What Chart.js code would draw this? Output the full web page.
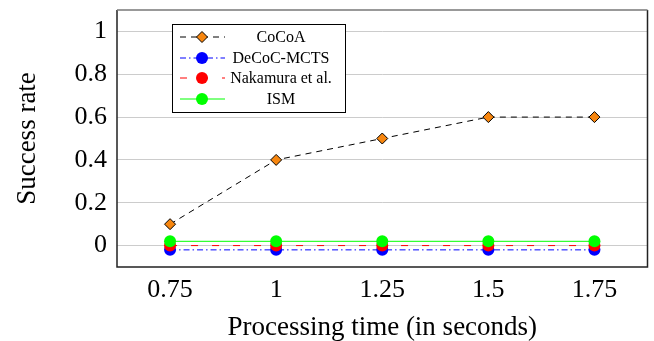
<!DOCTYPE html>
<html>
<head>
<meta charset="utf-8">
<script src="https://cdn.jsdelivr.net/npm/chart.js@4.4.1/dist/chart.umd.min.js"></script>
<style>
  html, body { margin: 0; padding: 0; background: #fff; }
  #wrap { width: 654px; height: 341px; }
</style>
</head>
<body>
<div id="wrap"><canvas id="c" width="654" height="341"></canvas></div>
<script>
// ---- data ----
const categories = [0.75, 1, 1.25, 1.5, 1.75];
const xTickLabels = ['0.75', '1', '1.25', '1.5', '1.75'];
const yTicks = [0, 0.2, 0.4, 0.6, 0.8, 1];
const yTickLabels = ['0', '0.2', '0.4', '0.6', '0.8', '1'];
const seriesNames = ['CoCoA', 'DeCoC-MCTS', 'Nakamura et al.', 'ISM'];
const cocoa = [0.1, 0.4, 0.5, 0.6, 0.6];
const decoc = [-0.02, -0.02, -0.02, -0.02, -0.02];
const nakamura = [0, 0, 0, 0, 0];
const ism = [0.02, 0.02, 0.02, 0.02, 0.02];

const SERIF = '"Liberation Serif", "Times New Roman", serif';

const styles = [
  { line: '#000000', dash: [6, 5], width: 1, point: 'rectRot', radius: 5.5, bg: '#f7860f', border: '#000000', bw: 1 },
  { line: '#0000ff', dash: [6, 3, 1.5, 3], width: 1, point: 'circle', radius: 6, bg: '#0000ff', border: '#0000ff', bw: 0 },
  { line: '#ff0000', dash: [7, 14], width: 1, point: 'circle', radius: 6, bg: '#ff0000', border: '#ff0000', bw: 0 },
  { line: '#00ff00', dash: [], width: 1, point: 'circle', radius: 6, bg: '#00ff00', border: '#00ff00', bw: 0 }
];
const seriesData = [cocoa, decoc, nakamura, ism];
const drawOrder = [3, 2, 1, 0];

const datasets = seriesNames.map((name, i) => ({
  label: name,
  data: categories.map((x, j) => ({ x: x, y: seriesData[i][j] })),
  borderColor: styles[i].line,
  borderWidth: styles[i].width,
  borderDash: styles[i].dash,
  pointStyle: styles[i].point,
  pointRadius: styles[i].radius,
  pointBackgroundColor: styles[i].bg,
  pointBorderColor: styles[i].border,
  pointBorderWidth: styles[i].bw,
  fill: false,
  tension: 0,
  order: drawOrder[i]
}));

const frameAndLegend = {
  id: 'frameAndLegend',
  afterDraw(chart) {
    const ctx = chart.ctx;
    const a = chart.chartArea;
    ctx.save();
    // frame
    ctx.setLineDash([]);
    ctx.lineWidth = 1.5;
    ctx.strokeStyle = '#222';
    ctx.beginPath();
    ctx.moveTo(a.left, a.top); ctx.lineTo(a.left, a.bottom); ctx.lineTo(a.right, a.bottom); ctx.lineTo(a.right, a.top);
    ctx.stroke();
    ctx.strokeStyle = '#777';
    ctx.beginPath();
    ctx.moveTo(a.left, a.top); ctx.lineTo(a.right, a.top);
    ctx.stroke();

    // legend box
    const lx = 172, ly = 24, lw = 173, lh = 88;
    ctx.fillStyle = '#fff';
    ctx.fillRect(lx, ly, lw, lh);
    ctx.lineWidth = 1;
    ctx.strokeStyle = '#000';
    ctx.strokeRect(lx + 0.5, ly + 0.5, lw, lh);
    const rowY = [37, 58, 78, 99];
    ctx.font = '16px ' + SERIF;
    ctx.textAlign = 'center';
    ctx.textBaseline = 'middle';
    seriesNames.forEach((name, i) => {
      const s = styles[i];
      const y = rowY[i];
      ctx.lineWidth = s.width;
      ctx.strokeStyle = s.line;
      ctx.setLineDash(s.dash);
      ctx.beginPath();
      ctx.moveTo(180, y); ctx.lineTo(225, y);
      ctx.stroke();
      ctx.setLineDash([]);
      ctx.fillStyle = s.bg;
      ctx.strokeStyle = s.border;
      ctx.lineWidth = s.bw;
      ctx.beginPath();
      if (s.point === 'rectRot') {
        const r = s.radius;
        ctx.moveTo(202, y - r); ctx.lineTo(202 + r, y); ctx.lineTo(202, y + r); ctx.lineTo(202 - r, y); ctx.closePath();
        ctx.fill(); ctx.stroke();
      } else {
        ctx.arc(202, y, s.radius, 0, Math.PI * 2);
        ctx.fill();
      }
      ctx.fillStyle = '#000';
      ctx.fillText(name, 281, y + 1);
    });
    ctx.restore();
  }
};

new Chart(document.getElementById('c'), {
  type: 'line',
  data: { datasets: datasets },
  options: {
    responsive: false,
    animation: false,
    devicePixelRatio: 1,
    layout: { padding: { left: 0, right: 4, top: 10, bottom: 0 } },
    plugins: { legend: { display: false }, tooltip: { enabled: false } },
    scales: {
      x: {
        type: 'linear',
        min: 0.625,
        max: 1.875,
        afterBuildTicks: (s) => { s.ticks = categories.map(v => ({ value: v })); },
        afterFit: (s) => { s.height = 74; s.paddingLeft = 0; s.paddingRight = 0; },
        ticks: {
          autoSkip: false, maxRotation: 0, padding: 8,
          color: '#000', font: { family: SERIF, size: 26 },
          callback: (v) => { const k = categories.indexOf(v); return k >= 0 ? xTickLabels[k] : ''; }
        },
        grid: { display: false, drawTicks: false },
        border: { display: false },
        title: { display: true, text: 'Processing time (in seconds)', color: '#000',
                 font: { family: SERIF, size: 27 }, padding: { top: 0, bottom: -3 } }
      },
      y: {
        type: 'linear',
        min: -0.1,
        max: 1.1,
        afterBuildTicks: (s) => { s.ticks = yTicks.map(v => ({ value: v })); },
        afterFit: (s) => { s.width = 117; s.paddingTop = 0; s.paddingBottom = 0; },
        ticks: {
          padding: 10, color: '#000', font: { family: SERIF, size: 26 },
          callback: (v) => { const k = yTicks.indexOf(v); return k >= 0 ? yTickLabels[k] : ''; }
        },
        grid: { color: '#cccccc', lineWidth: 1, drawTicks: false },
        border: { display: false },
        title: { display: true, text: 'Success rate', color: '#000',
                 font: { family: SERIF, size: 27 }, padding: { top: 12, bottom: 0 } }
      }
    }
  },
  plugins: [frameAndLegend]
});
</script>
</body>
</html>
